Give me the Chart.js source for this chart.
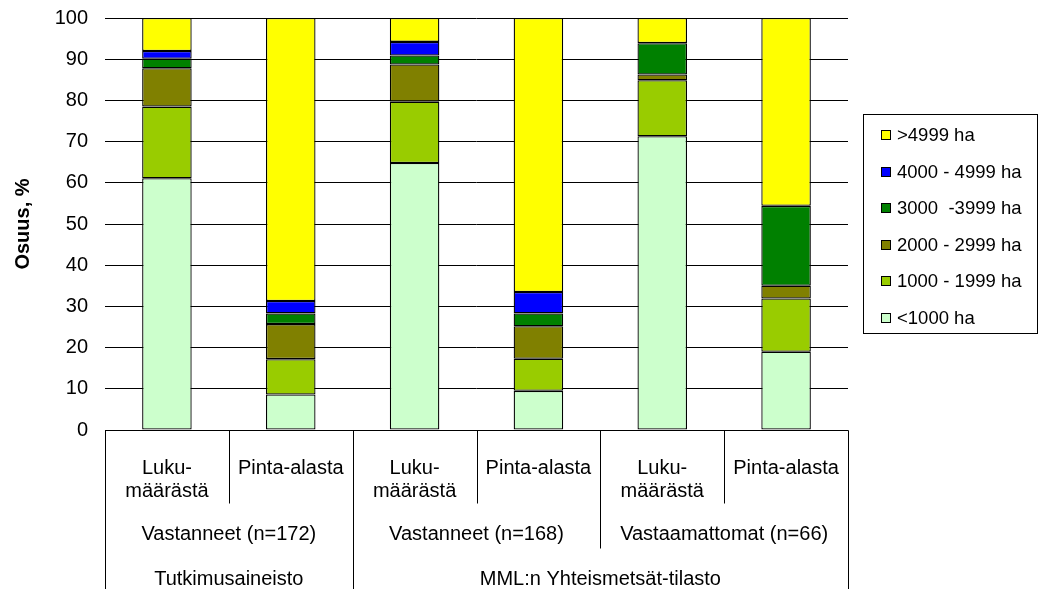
<!DOCTYPE html>
<html>
<head>
<meta charset="utf-8">
<script src="https://cdn.jsdelivr.net/npm/chart.js@4/dist/chart.umd.min.js"></script>
<style>
  html, body { margin: 0; padding: 0; background: #fff; }
  #wrap { width: 1042px; height: 589px; }
</style>
</head>
<body>
<div id="wrap"><canvas id="chart" width="1042" height="589"></canvas></div>
<script>
// category rows (bottom axis table)
let columns = [["Luku-", "määrästä"], ["Pinta-alasta"], ["Luku-", "määrästä"], ["Pinta-alasta"], ["Luku-", "määrästä"], ["Pinta-alasta"]];
let groups = ["Vastanneet (n=172)", "Vastanneet (n=168)", "Vastaamattomat (n=66)"];
let sources = ["Tutkimusaineisto", "MML:n Yhteismetsät-tilasto"];

// share, % (bottom to top)
let ha1000 = [61.1, 8.6, 64.8, 9.5, 71.3, 19.0];
let ha1999 = [17.4, 8.6, 14.9, 7.8, 13.6, 12.9];
let ha2999 = [9.3, 8.5, 9.0, 7.9, 1.4, 3.1];
let ha3999 = [2.3, 2.6, 2.2, 3.1, 7.6, 19.4];
let ha4999 = [1.9, 3.0, 3.3, 5.2, 0, 0];
let haOver = [8.0, 68.7, 5.8, 66.5, 6.1, 45.6];

let seriesNames = ["<1000 ha", "1000 - 1999 ha", "2000 - 2999 ha", "3000  -3999 ha", "4000 - 4999 ha", ">4999 ha"];
let colors = ["#CCFFCC", "#99CC00", "#808000", "#008000", "#0000FF", "#FFFF00"];

let yTicks = [0, 10, 20, 30, 40, 50, 60, 70, 80, 90, 100];

let font = "'Liberation Sans', Arial, sans-serif";

let allSeries = [ha1000, ha1999, ha2999, ha3999, ha4999, haOver];
let datasets = allSeries.map((d, i) => ({
    label: seriesNames[i],
    data: d,
    backgroundColor: colors[i],
    borderColor: "#000",
    borderWidth: 1.3,
    borderSkipped: false,
    barPercentage: 0.4,
    categoryPercentage: 1.0,
}));

// table under the bars + legend box
let extras = {
    id: "extras",
    afterDraw(chart) {
        let ctx = chart.ctx;
        let x = chart.scales.x;
        let area = chart.chartArea;
        let n = columns.length;
        let w = (area.right - area.left) / n;
        let edge = i => area.left + w * i;
        let top = area.bottom;
        let row1 = top + 73, row2 = top + 118, bottom = chart.height;

        ctx.save();
        ctx.strokeStyle = "#000";
        ctx.lineWidth = 1;
        let line = (x0, y0, x1, y1) => {
            ctx.beginPath();
            ctx.moveTo(Math.round(x0) + 0.5, Math.round(y0) + 0.5);
            ctx.lineTo(Math.round(x1) + 0.5, Math.round(y1) + 0.5);
            ctx.stroke();
        };
        line(edge(0), top, edge(n), top);
        line(edge(0), top, edge(0), bottom);
        line(edge(n), top, edge(n), bottom);
        line(edge(2), top, edge(2), bottom);
        line(edge(4), top, edge(4), row2);
        [1, 3, 5].forEach(i => line(edge(i), top, edge(i), row1));

        ctx.fillStyle = "#000";
        ctx.font = "20px " + font;
        ctx.textAlign = "center";
        ctx.textBaseline = "middle";
        columns.forEach((lines, i) => {
            let cx = x.getPixelForValue(i);
            lines.forEach((t, k) => ctx.fillText(t, cx, top + 38 + k * 23));
        });
        groups.forEach((t, i) => ctx.fillText(t, (edge(i * 2) + edge(i * 2 + 2)) / 2, top + 104));
        ctx.fillText(sources[0], (edge(0) + edge(2)) / 2, top + 149);
        ctx.fillText(sources[1], (edge(2) + edge(6)) / 2, top + 149);

        // legend
        let lx = 863, ly = 114, lw = 174, lh = 219;
        ctx.strokeStyle = "#000";
        ctx.strokeRect(lx + 0.5, ly + 0.5, lw, lh);
        ctx.textAlign = "left";
        ctx.font = "18.5px " + font;
        for (let k = 0; k < seriesNames.length; k++) {
            let i = seriesNames.length - 1 - k;
            let cy = 135 + k * 36.5;
            ctx.fillStyle = colors[i];
            ctx.fillRect(881, Math.round(cy) - 5, 10, 10);
            ctx.strokeRect(881.5, Math.round(cy) - 4.5, 9, 9);
            ctx.fillStyle = "#000";
            ctx.fillText(seriesNames[i], 897, cy + 1);
        }
        ctx.restore();
    }
};

let chart = new Chart(document.getElementById("chart"), {
    type: "bar",
    data: { labels: columns.map(c => c.join("")), datasets: datasets },
    options: {
        responsive: false,
        animation: false,
        layout: { padding: { top: 18, right: 194, bottom: 159, left: 0 } },
        plugins: { legend: { display: false }, tooltip: { enabled: false } },
        scales: {
            x: { stacked: true, display: false },
            y: {
                stacked: true,
                min: 0,
                max: 100,
                afterBuildTicks: s => { s.ticks = yTicks.map(v => ({ value: v })); },
                afterFit: s => { s.width = 105; s.paddingTop = 0; s.paddingBottom = 0; },
                border: { display: false },
                grid: { color: "#000", drawTicks: false },
                ticks: { color: "#000", padding: 17, font: { family: font, size: 20 } },
                title: {
                    display: true,
                    text: "Osuus, %",
                    color: "#000",
                    padding: { top: 11, bottom: 0 },
                    font: { family: font, size: 20, weight: "bold" }
                }
            }
        }
    },
    plugins: [extras]
});
</script>
</body>
</html>
